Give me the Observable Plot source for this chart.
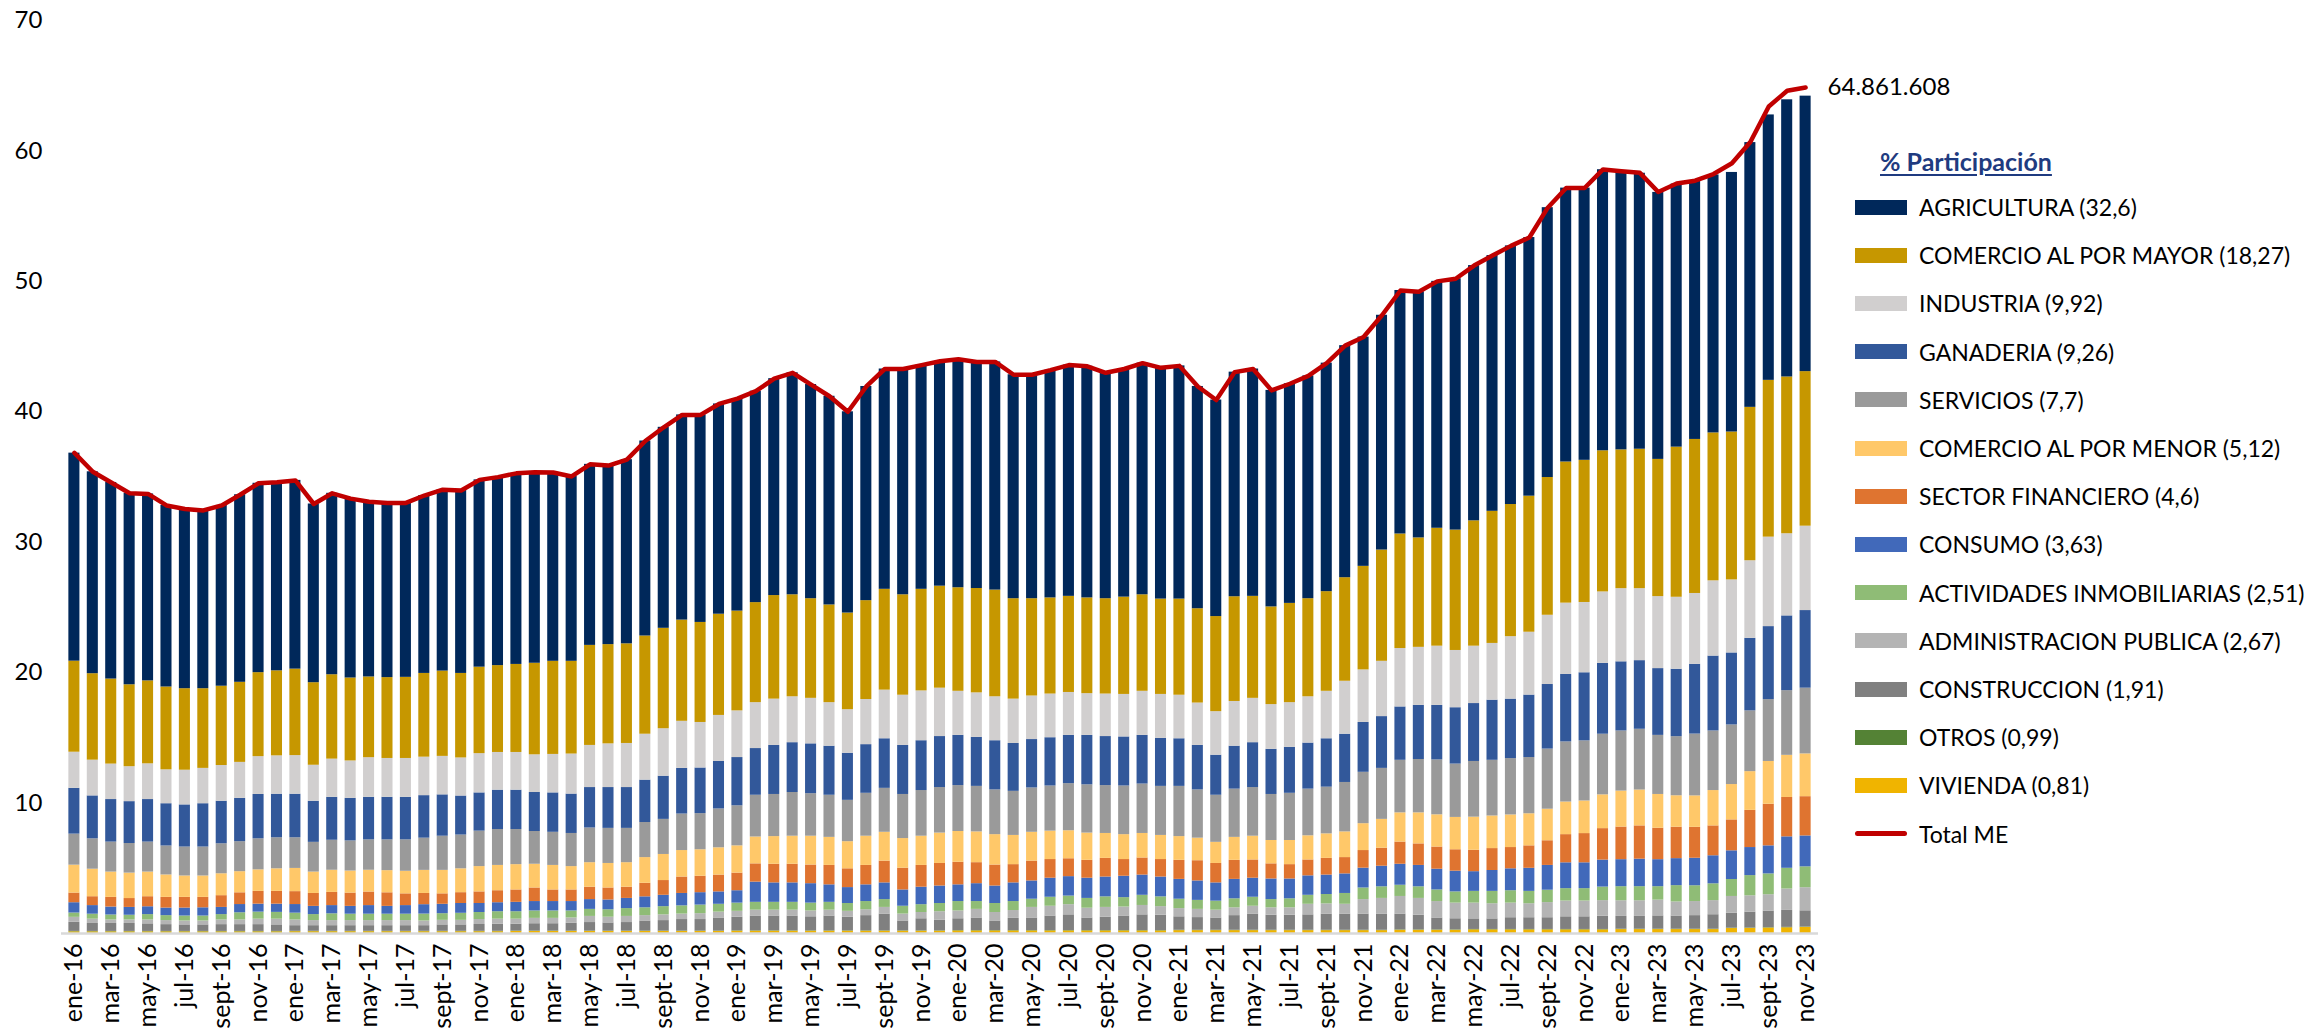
<!DOCTYPE html>
<html><head><meta charset="utf-8">
<script src="https://cdn.jsdelivr.net/npm/d3@7"></script>
<script src="https://cdn.jsdelivr.net/npm/@observablehq/plot@0.6"></script>
<style>
body{margin:0;background:#fff;}
#wrap{position:relative;width:2307px;height:1033px;font-family:Lato, "Open Sans", sans-serif;background:#fff;overflow:hidden;}
#legend{position:absolute;left:0;top:0;width:2307px;height:1033px;pointer-events:none;}
.lg-title{position:absolute;left:1880px;top:146px;font-size:25px;font-weight:bold;color:#1F3B80;text-decoration:underline;text-underline-offset:3px;white-space:nowrap;}
.lg-row{position:absolute;left:1855px;height:30px;display:flex;align-items:center;white-space:nowrap;font-size:23px;color:#000;}
.lg-sw{width:52px;height:15px;margin-right:12px;}
.lg-line{width:52px;height:5px;border-radius:3px;margin-right:12px;}
</style></head><body><div id="wrap"><div id="legend"></div></div>
<script>
const monthAbbr = ["ene","feb","mar","abr","may","jun","jul","ago","sept","oct","nov","dic"];
const years = ["16","17","18","19","20","21","22","23"];
const months = [];
years.forEach(y => monthAbbr.forEach(m => months.push(m + "-" + y)));
months.splice(95);

const agricultura = [15.95,15.48,15.07,14.68,14.33,13.92,13.78,13.67,13.86,14.38,14.52,14.46,
14.47,13.70,13.91,13.75,13.43,13.39,13.37,13.64,13.91,14.03,14.36,14.45,
14.65,14.65,14.47,14.17,13.88,13.73,14.12,14.95,15.41,15.73,15.91,16.12,
16.29,16.21,16.63,17.02,16.42,16.00,15.43,16.42,16.89,17.31,17.19,17.25,
17.52,17.37,17.49,17.17,17.17,17.46,17.73,17.76,17.32,17.49,17.76,17.73,
17.88,17.04,16.60,17.22,17.43,16.60,16.84,17.08,17.52,17.79,17.58,18.00,
18.67,18.87,18.93,19.27,19.57,19.61,19.83,19.83,20.69,21.00,20.87,21.55,
21.34,21.16,20.47,20.17,19.79,19.78,19.90,20.30,20.35,21.25,21.12];
const comercioMayor = [6.98,6.63,6.52,6.28,6.36,6.35,6.25,6.11,6.08,6.14,6.44,6.52,
6.63,6.33,6.47,6.36,6.19,6.20,6.22,6.42,6.54,6.48,6.63,6.66,
6.75,7.02,7.14,7.11,7.67,7.61,7.64,7.53,7.70,7.76,7.67,7.76,
7.65,7.67,7.94,7.82,7.64,7.49,7.41,7.58,7.73,7.70,7.79,7.82,
7.94,8.00,8.18,7.70,7.46,7.37,7.37,7.34,7.31,7.46,7.40,7.31,
7.37,7.23,7.29,8.03,7.82,7.49,7.61,7.52,7.64,7.94,7.94,8.53,
8.78,8.39,9.04,9.23,9.61,10.13,10.13,10.43,10.56,10.82,10.90,10.82,
10.64,10.69,10.52,11.51,11.81,11.34,11.34,11.76,12.02,12.02,11.85];
const industria = [2.77,2.74,2.72,2.68,2.74,2.60,2.66,2.71,2.74,2.76,2.90,2.94,
2.96,2.76,2.93,2.87,3.04,2.98,2.98,2.95,2.95,2.92,3.01,2.89,
2.89,2.89,2.95,3.07,3.23,3.35,3.38,3.52,3.64,3.61,3.49,3.53,
3.58,3.52,3.55,3.52,3.49,3.34,3.34,3.46,3.73,3.85,3.82,3.71,
3.38,3.41,3.37,3.40,3.34,3.35,3.29,3.20,3.26,3.26,3.38,3.37,
3.34,3.25,3.34,3.43,3.40,3.43,3.43,3.55,3.64,4.06,4.03,4.24,
4.48,4.45,4.54,4.39,4.40,4.35,4.79,4.82,5.31,5.47,5.39,5.48,
5.61,5.52,5.52,5.52,5.43,5.77,5.60,5.95,6.86,6.30,6.47];
const ganaderia = [3.51,3.29,3.26,3.21,3.26,3.24,3.23,3.32,3.26,3.32,3.40,3.34,
3.34,3.15,3.29,3.26,3.26,3.26,3.26,3.26,3.17,2.99,2.93,3.02,
3.02,2.99,3.02,3.02,3.10,3.13,3.13,3.25,3.31,3.50,3.50,3.64,
3.70,3.58,3.76,3.82,3.82,3.76,3.61,3.73,3.80,3.76,3.82,3.91,
3.85,3.76,3.77,3.67,3.71,3.70,3.70,3.79,3.76,3.76,3.73,3.68,
3.65,3.41,3.07,3.29,3.44,3.46,3.52,3.53,3.71,3.70,3.82,3.97,
4.09,4.15,4.18,4.32,4.44,4.61,4.56,4.79,4.95,5.17,5.22,5.43,
5.30,5.26,5.12,5.17,5.35,5.74,5.52,5.56,5.60,5.73,5.95];
const servicios = [2.38,2.33,2.30,2.27,2.30,2.22,2.22,2.22,2.30,2.30,2.38,2.38,
2.35,2.28,2.30,2.31,2.33,2.36,2.41,2.47,2.62,2.59,2.72,2.75,
2.69,2.51,2.54,2.54,2.66,2.69,2.63,2.69,2.69,2.80,2.77,2.98,
3.07,3.20,3.23,3.35,3.26,3.23,3.17,3.29,3.37,3.38,3.50,3.49,
3.52,3.49,3.43,3.38,3.40,3.46,3.61,3.70,3.67,3.73,3.79,3.76,
3.85,3.70,3.61,3.70,3.73,3.53,3.62,3.58,3.58,3.79,3.94,3.91,
4.03,4.09,4.21,4.09,4.27,4.27,4.32,4.31,4.61,4.61,4.61,4.65,
4.61,4.66,4.53,4.53,4.74,4.57,4.57,4.66,4.74,4.96,5.04];
const comercioMenor = [2.14,2.11,1.94,1.95,1.89,1.72,1.64,1.64,1.68,1.62,1.65,1.73,
1.78,1.64,1.70,1.69,1.67,1.70,1.73,1.77,1.80,1.83,1.94,1.94,
1.94,1.82,1.88,1.79,1.88,1.88,1.88,1.97,2.00,2.03,2.03,2.09,
2.09,2.06,2.12,2.15,2.21,2.15,2.08,2.24,2.21,2.27,2.24,2.33,
2.36,2.36,2.33,2.24,2.21,2.18,2.15,2.09,1.91,1.91,1.88,1.85,
1.82,1.73,1.62,1.76,1.82,1.79,1.85,1.85,1.88,1.97,2.06,2.21,
2.24,2.38,2.47,2.48,2.54,2.50,2.50,2.46,2.42,2.50,2.50,2.59,
2.76,2.75,2.59,2.41,2.41,2.71,2.71,2.97,3.28,3.23,3.28];
const sectorFinanciero = [0.74,0.68,0.74,0.68,0.77,0.82,0.82,0.80,0.90,0.90,0.98,0.98,
0.99,0.99,1.01,1.02,1.04,1.04,0.90,0.86,0.80,0.83,0.89,0.92,
0.95,1.04,0.89,0.89,0.95,0.92,0.86,1.04,1.13,1.26,1.26,1.29,
1.35,1.40,1.43,1.43,1.43,1.49,1.44,1.49,1.67,1.67,1.67,1.73,
1.73,1.61,1.61,1.40,1.52,1.43,1.37,1.37,1.43,1.28,1.31,1.34,
1.46,1.55,1.49,1.46,1.40,1.16,1.10,1.22,1.28,1.25,1.35,1.38,
1.70,1.65,1.70,1.64,1.64,1.68,1.63,1.72,1.89,2.16,2.24,2.41,
2.50,2.55,2.41,2.41,2.37,2.29,2.37,2.85,3.19,3.02,3.01];
const consumo = [0.79,0.66,0.61,0.60,0.60,0.58,0.61,0.63,0.55,0.63,0.61,0.63,
0.66,0.63,0.63,0.60,0.66,0.60,0.66,0.72,0.72,0.75,0.69,0.69,
0.72,0.72,0.72,0.72,0.75,0.75,0.78,0.84,0.87,0.95,0.95,0.95,
0.95,1.55,1.49,1.49,1.49,1.34,1.22,1.28,1.28,1.25,1.34,1.34,
1.28,1.37,1.34,1.43,1.40,1.46,1.49,1.55,1.52,1.64,1.55,1.52,
1.52,1.49,1.40,1.49,1.46,1.58,1.52,1.49,1.49,1.50,1.52,1.58,
1.61,1.64,1.59,1.59,1.51,1.60,1.68,1.77,1.90,1.98,1.98,2.07,
2.07,2.11,2.07,2.07,2.11,2.15,2.20,2.15,2.15,2.41,2.37];
const actividadesInmob = [0.33,0.38,0.38,0.36,0.41,0.38,0.38,0.38,0.41,0.55,0.54,0.52,
0.52,0.46,0.52,0.49,0.49,0.49,0.49,0.53,0.51,0.54,0.54,0.57,
0.57,0.57,0.57,0.54,0.54,0.57,0.60,0.60,0.63,0.63,0.66,0.60,
0.63,0.60,0.60,0.60,0.60,0.60,0.60,0.63,0.60,0.60,0.60,0.63,
0.72,0.60,0.69,0.69,0.63,0.69,0.66,0.75,0.81,0.72,0.78,0.75,
0.72,0.69,0.69,0.69,0.69,0.63,0.69,0.69,0.72,0.83,0.89,0.89,
0.86,0.89,0.89,0.86,0.90,0.95,0.95,0.95,0.95,0.95,0.95,1.04,
1.08,1.08,1.03,1.25,1.21,1.29,1.30,1.55,1.60,1.59,1.60];
const adminPublica = [0.38,0.33,0.27,0.27,0.30,0.31,0.30,0.30,0.36,0.36,0.42,0.44,
0.44,0.39,0.39,0.39,0.39,0.39,0.39,0.36,0.35,0.35,0.38,0.38,
0.38,0.41,0.41,0.41,0.47,0.44,0.47,0.41,0.44,0.42,0.45,0.45,
0.45,0.45,0.45,0.45,0.45,0.45,0.45,0.45,0.51,0.53,0.48,0.66,
0.60,0.66,0.65,0.60,0.81,0.75,0.78,0.75,0.75,0.69,0.72,0.66,
0.63,0.63,0.60,0.60,0.60,0.57,0.57,0.81,0.78,0.75,1.11,1.20,
1.35,1.29,1.26,1.20,1.21,1.16,1.12,1.07,1.16,1.21,1.21,1.20,
1.20,1.20,1.21,1.08,1.08,1.08,1.29,1.25,1.25,1.64,1.77];
const construccion = [0.70,0.61,0.61,0.61,0.58,0.52,0.50,0.50,0.52,0.52,0.52,0.50,
0.43,0.43,0.43,0.43,0.43,0.43,0.43,0.43,0.49,0.49,0.52,0.55,
0.53,0.56,0.56,0.59,0.65,0.62,0.65,0.77,0.80,0.88,0.88,1.00,
1.04,1.13,1.13,1.13,1.07,1.13,1.04,1.16,1.28,0.75,0.92,0.80,
0.90,0.96,0.73,0.93,0.96,1.11,1.20,0.96,1.02,1.11,1.20,1.17,
1.03,0.97,0.94,1.12,1.24,1.15,1.15,1.18,1.24,1.24,1.24,1.24,
1.21,1.12,0.91,0.85,0.81,0.81,0.90,0.90,0.90,0.97,0.97,1.01,
0.98,0.98,1.02,1.01,1.04,1.11,1.14,1.22,1.27,1.30,1.24];
const otros = [0.03,0.03,0.03,0.03,0.03,0.03,0.03,0.03,0.03,0.03,0.03,0.03,
0.03,0.03,0.03,0.03,0.03,0.03,0.03,0.03,0.03,0.03,0.03,0.03,
0.03,0.03,0.03,0.03,0.03,0.03,0.03,0.03,0.03,0.03,0.03,0.03,
0.03,0.03,0.03,0.03,0.03,0.03,0.03,0.03,0.03,0.03,0.03,0.03,
0.03,0.03,0.03,0.03,0.03,0.03,0.03,0.03,0.03,0.03,0.03,0.03,
0.03,0.03,0.03,0.03,0.03,0.03,0.03,0.03,0.03,0.03,0.03,0.03,
0.03,0.03,0.03,0.03,0.03,0.03,0.03,0.03,0.03,0.03,0.03,0.03,
0.03,0.03,0.03,0.03,0.03,0.03,0.03,0.03,0.03,0.03,0.03];
const vivienda = [0.13,0.13,0.13,0.13,0.13,0.13,0.13,0.13,0.13,0.13,0.13,0.13,
0.14,0.14,0.14,0.14,0.14,0.14,0.14,0.14,0.14,0.14,0.14,0.14,
0.16,0.16,0.16,0.16,0.16,0.16,0.16,0.16,0.16,0.16,0.16,0.16,
0.18,0.18,0.18,0.18,0.18,0.18,0.18,0.18,0.18,0.18,0.18,0.18,
0.20,0.20,0.20,0.20,0.20,0.20,0.20,0.20,0.20,0.20,0.20,0.20,
0.22,0.22,0.22,0.22,0.22,0.22,0.22,0.22,0.22,0.22,0.22,0.22,
0.25,0.25,0.25,0.25,0.28,0.28,0.28,0.28,0.28,0.28,0.28,0.28,
0.30,0.30,0.30,0.30,0.30,0.30,0.38,0.39,0.42,0.44,0.47];
const totalME = [36.85,35.40,34.58,33.75,33.70,32.82,32.55,32.44,32.82,33.64,34.52,34.60,
34.74,32.93,33.75,33.34,33.10,33.01,33.01,33.58,34.03,33.97,34.78,34.99,
35.28,35.37,35.34,35.04,35.97,35.88,36.33,37.76,38.81,39.76,39.76,40.60,
41.01,41.58,42.54,42.99,42.09,41.19,40.00,41.94,43.28,43.28,43.58,43.88,
44.03,43.82,43.82,42.84,42.84,43.19,43.58,43.49,42.99,43.28,43.73,43.37,
43.52,41.94,40.90,43.04,43.28,41.64,42.15,42.75,43.73,45.07,45.73,47.40,
49.30,49.20,50.00,50.20,51.21,51.98,52.72,53.36,55.65,57.16,57.16,58.58,
58.45,58.32,56.85,57.50,57.72,58.23,59.05,60.69,63.41,64.61,64.86];
const totalLabel = "64.861.608";
const yTicks = [10,20,30,40,50,60,70];

// stack order: bottom to top
const seriesNames = ["VIVIENDA (0,81)","OTROS (0,99)","CONSTRUCCION (1,91)","ADMINISTRACION PUBLICA (2,67)",
  "ACTIVIDADES INMOBILIARIAS (2,51)","CONSUMO (3,63)","SECTOR FINANCIERO (4,6)","COMERCIO AL POR MENOR (5,12)",
  "SERVICIOS (7,7)","GANADERIA (9,26)","INDUSTRIA (9,92)","COMERCIO AL POR MAYOR (18,27)","AGRICULTURA (32,6)"];
const seriesValues = [vivienda, otros, construccion, adminPublica, actividadesInmob, consumo, sectorFinanciero,
  comercioMenor, servicios, ganaderia, industria, comercioMayor, agricultura];
const seriesColors = ["#F0B400","#548235","#808080","#B4B4B4","#8FBC76","#4169BA","#DF7430","#FFC869",
  "#9A9A9A","#32589A","#D1CFCF","#C69700","#00285A"];

const data = [];
seriesNames.forEach((name, k) => seriesValues[k].forEach((v, i) => data.push({month: months[i], series: name, value: v})));
const totalData = totalME.map((v, i) => ({month: months[i], value: v}));
const tickMonths = months.filter((d, i) => i % 2 === 0);

const chart = Plot.plot({
  width: 2307, height: 1033,
  marginLeft: 61, marginRight: 489, marginTop: 20, marginBottom: 100,
  x: {type: "band", domain: months, padding: 0.4, label: null},
  y: {domain: [0, 70], label: null},
  color: {domain: seriesNames, range: seriesColors},
  style: {fontFamily: "Lato, 'Open Sans', sans-serif", background: "white", color: "black", overflow: "visible"},
  marks: [
    Plot.barY(data, {x: "month", y: "value", fill: "series"}),
    Plot.ruleY([0], {stroke: "#D9D9D9", strokeWidth: 2.5}),
    Plot.line(totalData, {x: "month", y: "value", stroke: "#C00000", strokeWidth: 4.5, strokeLinejoin: "round", strokeLinecap: "round"}),
    Plot.text([totalData[totalData.length - 1]], {x: "month", y: "value", text: () => totalLabel, dx: 22, textAnchor: "start", fontSize: 24, fill: "black"}),
    Plot.axisY({ticks: yTicks, tickSize: 0, tickPadding: 47, textAnchor: "start", fontSize: 24, label: null}),
    Plot.axisX({ticks: tickMonths, tickSize: 0, tickPadding: 10, tickRotate: -90, fontSize: 25, label: null})
  ]
});
document.getElementById("wrap").insertBefore(chart, document.getElementById("legend"));

// legend (top to bottom)
const legend = document.getElementById("legend");
const title = document.createElement("div");
title.className = "lg-title";
title.textContent = "% Participación";
legend.appendChild(title);
const order = seriesNames.map((n, k) => k).reverse();
order.forEach((k, r) => {
  const row = document.createElement("div");
  row.className = "lg-row";
  row.style.top = (207 + r * 48.2 - 15) + "px";
  const sw = document.createElement("div");
  sw.className = "lg-sw";
  sw.style.background = seriesColors[k];
  row.appendChild(sw);
  const t = document.createElement("span");
  t.textContent = seriesNames[k];
  row.appendChild(t);
  legend.appendChild(row);
});
const row = document.createElement("div");
row.className = "lg-row";
row.style.top = (207 + 13 * 48.2 - 15) + "px";
const ln = document.createElement("div");
ln.className = "lg-line";
ln.style.background = "#C00000";
row.appendChild(ln);
const t = document.createElement("span");
t.textContent = "Total ME";
row.appendChild(t);
legend.appendChild(row);
</script></body></html>
